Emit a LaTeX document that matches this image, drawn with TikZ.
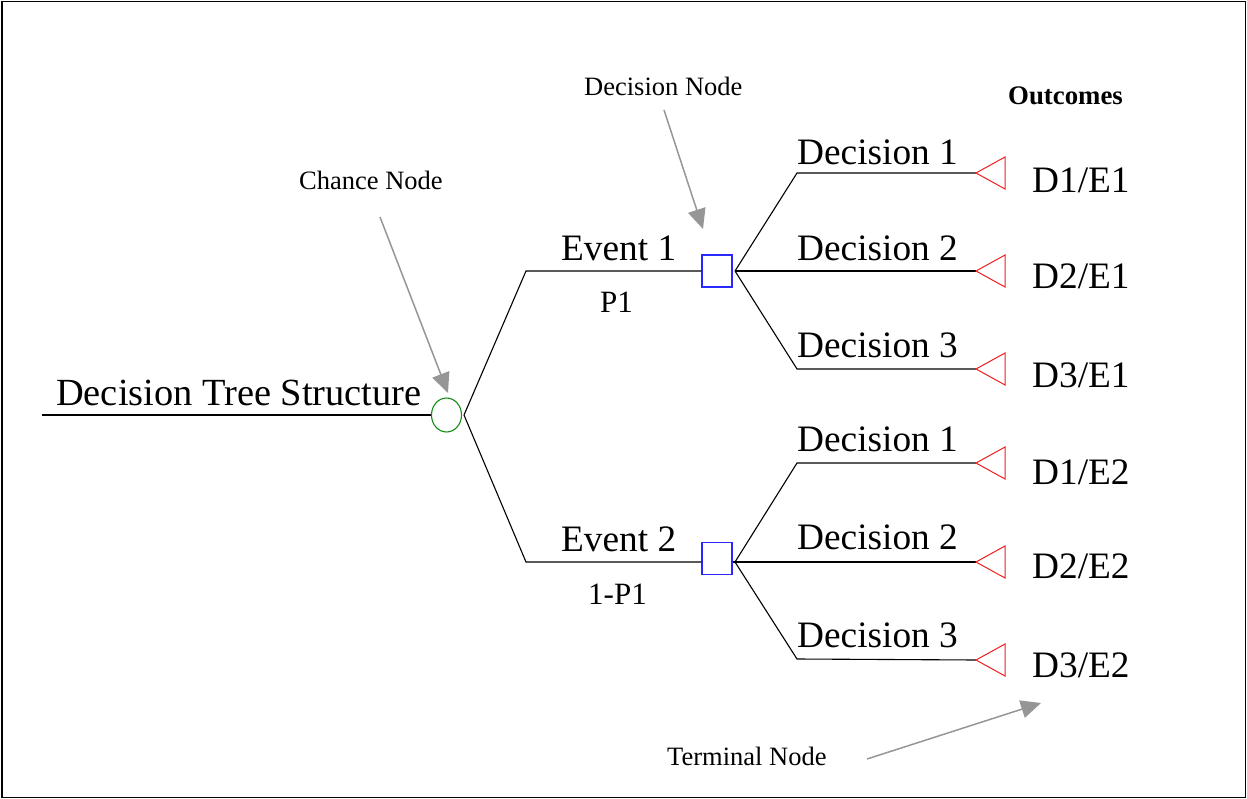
\documentclass[tikz,border=0pt]{standalone}
\usepackage{fontspec}
\setmainfont{Liberation Serif}
\usetikzlibrary{arrows.meta,shapes.geometric}
\definecolor{chancegreen}{RGB}{20,140,20}
\definecolor{decblue}{RGB}{40,40,255}
\definecolor{termred}{RGB}{240,30,30}
\definecolor{notegray}{RGB}{150,150,150}
\tikzset{
  branch/.style={line width=1.1pt, black},
  big/.style={anchor=base west, inner sep=0pt, font=\fontsize{37.3}{40}\selectfont},
  prob/.style={anchor=base west, inner sep=0pt, font=\fontsize{31}{34}\selectfont},
  note/.style={anchor=base west, inner sep=0pt, font=\fontsize{26.5}{30}\selectfont},
  chance/.style={ellipse, draw=chancegreen, line width=1.1pt, minimum width=30pt, minimum height=34pt, inner sep=0pt},
  decision/.style={rectangle, draw=decblue, line width=1.1pt, minimum width=30pt, minimum height=32pt, inner sep=0pt},
  terminal/.style={draw=termred, line width=1pt, line join=miter},
  pointer/.style={draw=notegray, line width=1.5pt, -{Triangle[length=20pt,width=18pt]}, notegray}
}
\begin{document}
\begin{tikzpicture}[x=1pt,y=-1pt]
\useasboundingbox (0,0) rectangle (1247,799);
% outer frame
\draw[line width=1.6pt] (2,1.5) rectangle (1245.5,797.5);

% root and chance node
\coordinate (root) at (42,415);
\node[chance] (chance) at (446.5,415) {};
\coordinate (cfork) at (464,415);
\node[big, font=\fontsize{38.4}{41}\selectfont] (title) at (56,405) {Decision Tree Structure};
\draw[branch] (root) -- (chance.west);

% decision nodes
\node[decision] (dec1) at (717,271) {};
\node[decision] (dec2) at (717,558.5) {};
\coordinate (e1bend) at (526,271);
\coordinate (e2bend) at (526,562);
\draw[branch] (cfork) -- (e1bend) -- (dec1.west);
\draw[branch] (cfork) -- (e2bend) -- (dec2.west |- e2bend);

\node[big] (ev1) at (561,261) {Event 1};
\node[prob] (p1) at (600,313) {P1};
\node[big] (ev2) at (561,551) {Event 2};
\node[prob] (p2) at (588,604) {1-P1};

% forks after the decision nodes
\coordinate (d1fork) at (735,271);
\coordinate (d2fork) at (735,562);

% terminal tips
\coordinate (t1) at (976,173);
\coordinate (t2) at (976,271);
\coordinate (t3) at (976,369);
\coordinate (t4) at (976,463);
\coordinate (t5) at (976,562);
\coordinate (t6) at (976,660);

\coordinate (b1) at (797,173);
\coordinate (b2) at (797,271);
\coordinate (b3) at (797,369);
\coordinate (b4) at (797,463);
\coordinate (b5) at (797,562);
\coordinate (b6) at (797,659);

\draw[branch] (d1fork) -- (b1) -- (t1);
\draw[branch] (d1fork) -- (b2) -- (t2);
\draw[branch] (d1fork) -- (b3) -- (t3);
\draw[branch] (d2fork) -- (b4) -- (t4);
\draw[branch] (d2fork) -- (b5) -- (t5);
\draw[branch] (d2fork) -- (b6) -- (t6);
\draw[branch] (dec2.east |- d2fork) -- (d2fork);

\foreach \t in {t1,t2,t3,t4,t5,t6}
  \draw[terminal] (\t) -- ++(29,-16) -- ++(0,32) -- cycle;

% branch labels
\node[big] (dn1) at (797,165) {Decision 1};
\node[big] (dn2) at (797,261) {Decision 2};
\node[big] (dn3) at (797,357) {Decision 3};
\node[big] (dn4) at (797,451) {Decision 1};
\node[big] (dn5) at (797,549) {Decision 2};
\node[big] (dn6) at (797,647) {Decision 3};

% outcomes
\node[note, font=\fontsize{26.8}{30}\selectfont\bfseries] (out) at (1008,105) {Outcomes};
\node[big] (o1) at (1032,193) {D1/E1};
\node[big] (o2) at (1032,289) {D2/E1};
\node[big] (o3) at (1032,387) {D3/E1};
\node[big] (o4) at (1032,484) {D1/E2};
\node[big] (o5) at (1032,578) {D2/E2};
\node[big] (o6) at (1032,677) {D3/E2};

% annotations
\node[note] (chnote) at (299,190) {Chance Node};
\node[note] (dnote) at (584,96) {Decision Node};
\node[note] (tnote) at (667,765) {Terminal Node};
\coordinate (chfrom) at (380,217);
\coordinate (chto) at (448,393);
\coordinate (dfrom) at (664,110);
\coordinate (dto) at (703,229);
\coordinate (tfrom) at (867,759);
\coordinate (tto) at (1041,703);
\draw[pointer] (chfrom) -- (chto);
\draw[pointer] (dfrom) -- (dto);
\draw[pointer] (tfrom) -- (tto);
\end{tikzpicture}
\end{document}
